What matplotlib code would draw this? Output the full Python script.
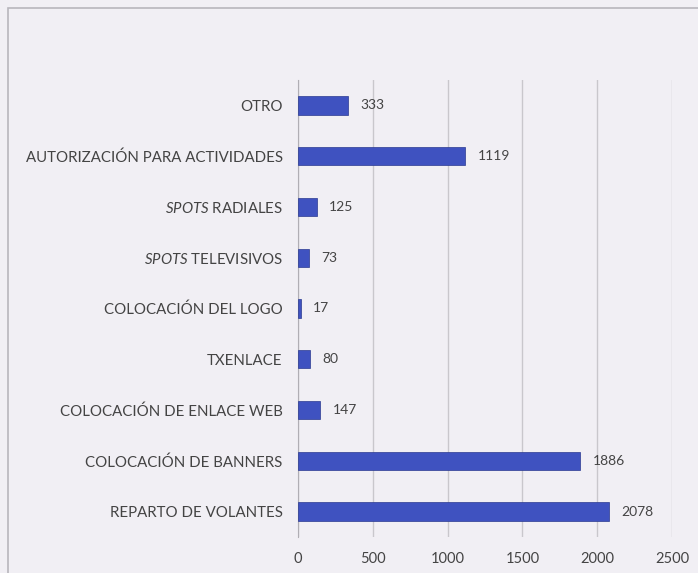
import matplotlib
matplotlib.use('Agg')
import matplotlib.pyplot as plt
from matplotlib.patches import Rectangle

# categories from top to bottom as in the picture
categorias = ['OTRO', 'AUTORIZACIÓN PARA ACTIVIDADES', r'$\mathit{SPOTS}$ RADIALES',
              r'$\mathit{SPOTS}$ TELEVISIVOS', 'COLOCACIÓN DEL LOGO', 'TXENLACE',
              'COLOCACIÓN DE ENLACE WEB', 'COLOCACIÓN DE BANNERS', 'REPARTO DE VOLANTES']
valores = [333, 1119, 125, 73, 17, 80, 147, 1886, 2078]
ticks_x = [0, 500, 1000, 1500, 2000, 2500]

plt.rcParams['font.family'] = ['Lato', 'DejaVu Sans']
plt.rcParams['mathtext.fontset'] = 'custom'
plt.rcParams['mathtext.rm'] = 'Lato'
plt.rcParams['mathtext.it'] = 'Lato:italic'

fondo = '#f1eff4'
texto = '#444444'
azul = '#3f52c0'

fig = plt.figure(figsize=(6.98, 5.73), dpi=100, facecolor=fondo)
# outer frame of the chart area
fig.patches.append(Rectangle((8/698, -0.05), 1.0, 1 - 8/573 + 0.05, transform=fig.transFigure,
                             fill=False, edgecolor='#b8b6bc', linewidth=1.2))

ax = fig.add_axes([298/698, 1 - 537/573, 374/698, 457/573])
ax.set_facecolor(fondo)

pos = list(range(len(categorias)))
ax.barh(pos, valores, height=0.36, color=azul, edgecolor='#2a3a90', linewidth=0.5, zorder=3)

for p, v in zip(pos, valores):
    ax.annotate(str(v), (v, p), xytext=(9, 0), textcoords='offset points',
                va='center', ha='left', fontsize=10, color=texto)

ax.set_yticks(pos)
ax.set_yticklabels(categorias, fontsize=10.8, color=texto)
ax.set_ylim(len(categorias) - 0.5, -0.5)
ax.set_xlim(0, 2500)
ax.set_xticks(ticks_x)
ax.set_xticklabels([str(t) for t in ticks_x], fontsize=10.5, color=texto)

ax.grid(axis='x', color='#c9c7cc', linewidth=1, zorder=0)
for s in ['top', 'right', 'bottom']:
    ax.spines[s].set_visible(False)
ax.spines['left'].set_color('#b0aeb4')
ax.tick_params(axis='x', length=0, pad=11)
ax.tick_params(axis='y', length=0, pad=11)

plt.savefig('out.png', dpi=100, facecolor=fondo)
